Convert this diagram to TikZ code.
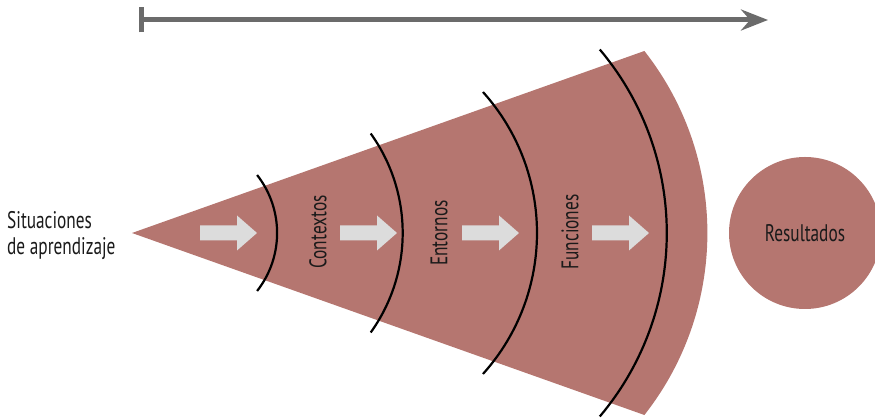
\documentclass[tikz,border=0pt]{standalone}
\usepackage{fontspec}
\setmainfont{PT Sans}[FakeStretch=0.72]
\usetikzlibrary{arrows.meta,calc}

\definecolor{conefill}{HTML}{B57670}
\definecolor{arrowgray}{HTML}{DCDCDC}
\definecolor{linegray}{HTML}{6B6B6B}
\definecolor{textdark}{HTML}{1A1A1A}

\tikzset{
  label text/.style={font=\fontsize{24}{26}\selectfont, text=textdark, inner sep=0pt},
  ring/.style={draw=black, line width=2.2pt},
  timeline/.style={draw=linegray, line width=5pt,
    arrows={Bar[width=25pt]-Stealth[length=27pt,width=21pt,inset=9pt]}},
  blockarrow/.pic={
    \fill[arrowgray] (0,-7.5) -- (37,-7.5) -- (37,-17.5) -- (57,0)
      -- (37,17.5) -- (37,7.5) -- (0,7.5) -- cycle;
  }
}

\begin{document}
\begin{tikzpicture}[x=1pt, y=1pt]
  \useasboundingbox (0,0) rectangle (875,419);

  % timeline along the top
  \coordinate (tstart) at (138.5,399);
  \coordinate (tend) at (768,399);
  \draw[timeline] (tstart) -- (tend);

  % cone with curved outer edge
  \coordinate (apex) at (132,186);
  \coordinate (outerc) at (413,186);
  \fill[conefill] (apex) -- ($(outerc)+(38.19:294.4)$)
    arc[start angle=38.19, end angle=-38.19, radius=294.4] -- cycle;

  % rings across the cone
  \coordinate (c1) at (183,186);
  \coordinate (c2) at (232,186);
  \coordinate (c3) at (326,186);
  \coordinate (c4) at (382,186);
  \draw[ring] ($(c1)+(-38.05:94.1)$) arc[start angle=-38.05, end angle=38.05, radius=94.1];
  \draw[ring] ($(c2)+(-35.65:170.7)$) arc[start angle=-35.65, end angle=35.65, radius=170.7];
  \draw[ring] ($(c3)+(-41.93:211)$) arc[start angle=-41.93, end angle=41.93, radius=211];
  \draw[ring] ($(c4)+(-40.11:284.8)$) arc[start angle=-40.11, end angle=40.11, radius=284.8];

  % block arrows inside the cone
  \pic at (200,186) {blockarrow};
  \pic at (340,186) {blockarrow};
  \pic at (462,186) {blockarrow};
  \pic at (592,186) {blockarrow};

  % labels
  \node[label text, align=left, anchor=west] (start) at (7,183)
    {Situaciones\\de aprendizaje};
  \node[label text, rotate=90] (ctx) at (318,187) {Contextos};
  \node[label text, rotate=90] (ent) at (439,186) {Entornos};
  \node[label text, rotate=90] (fun) at (570,187) {Funciones};

  % result circle
  \node[circle, fill=conefill, minimum size=152pt, inner sep=0pt] (res) at (805,186) {};
  \node[label text] (restext) at (res.center) {Resultados};
\end{tikzpicture}
\end{document}
